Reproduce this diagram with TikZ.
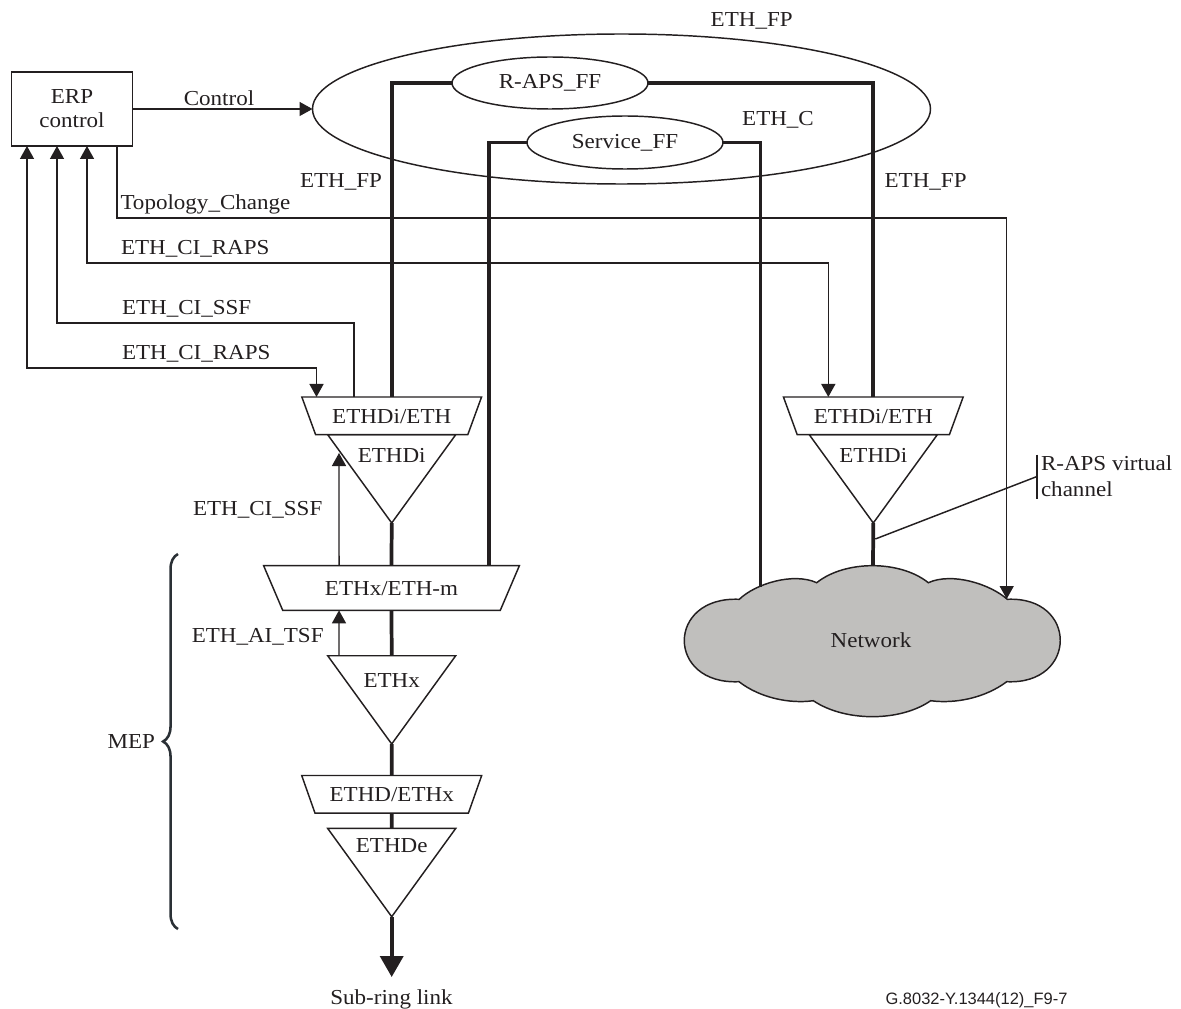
\documentclass[tikz,border=0pt]{standalone}
\usepackage{fontspec}
\setmainfont[FakeStretch=1.08]{Liberation Serif}
\newfontfamily\tagfont{Liberation Sans}
\usetikzlibrary{shapes.geometric,arrows.meta,calc,decorations.pathreplacing}
\definecolor{ink}{HTML}{231F20}
\definecolor{cloudgrey}{HTML}{C0BFBD}
\definecolor{bracecol}{HTML}{2A3035}

\begin{document}
\begin{tikzpicture}[
    x=0.75pt, y=-0.75pt,
    color=ink,
    every node/.style={font=\fontsize{16}{18}\selectfont, text=ink, inner sep=0pt, outer sep=0pt},
    line/.style={draw=ink, line width=1.1pt},
    arrow/.style={line, -{Triangle[length=9.75pt, width=10.5pt]}},
    twoway/.style={line, {Triangle[length=9.75pt, width=10.5pt]}-{Triangle[length=9.75pt, width=10.5pt]}},
    heavy/.style={draw=ink, line width=2.8pt},
    lbl/.style={anchor=west},
    box/.style={rectangle, line, minimum width=90.75pt, minimum height=55.5pt, align=center},
    ring/.style={ellipse, line, minimum width=147pt, minimum height=39pt},
    funnel/.style={trapezium, line, trapezium stretches=true, shape border rotate=180,
        trapezium angle=55, minimum width=135pt, minimum height=28.2pt, text height=11.5pt, text depth=0pt},
    tri/.style={isosceles triangle, line, isosceles triangle stretches=true, shape border rotate=-90,
        anchor=apex, minimum width=96pt, minimum height=66.2pt}
]
\useasboundingbox (0,0) rectangle (1181,1009);

% Network cloud
\coordinate (cloud_top) at (873,565);
\coordinate (cloud_svc) at (760.5,587);
\coordinate (cloud_tc) at (1006.7,599);
\draw[line, fill=cloudgrey] (739.3,599.3)
    .. controls (755,584) and (793,572) .. (816.7,582.7)
    .. controls (845,560) and (900,560) .. (928.3,582.7)
    .. controls (952,572) and (990,584) .. (1007.3,599.3)
    .. controls (1078,596) and (1078,685) .. (1006.7,681.7)
    .. controls (985,698) and (955,704) .. (930.7,700.7)
    .. controls (900,722) and (845,722) .. (813.3,700.7)
    .. controls (790,704) and (760,698) .. (739,681.7)
    .. controls (666,685) and (666,596) .. (739.3,599.3) -- cycle;
\node (network) at (871,640.5) {Network};

% Control block and flow domains
\node[box] (erp) at (72,109) {ERP\\control};
\node[ring, minimum width=463.5pt, minimum height=112.5pt] (fp) at (621.5,109) {};
\node[ring] (raps) at (550,83) {R-APS\_FF};
\node[ring, minimum height=39.75pt] (svc) at (625,142.5) {Service\_FF};

% Left stack
\node[funnel] (eth_a) at (391.7,415.8) {ETHDi/ETH};
\node[tri] (di_a) at (391.7,523) {};
\node (di_a_txt) at (391.7,455.8) {ETHDi};
\node[funnel, minimum width=192pt, minimum height=33.5pt, trapezium angle=52.7] (mux) at (391.5,588) {ETHx/ETH-m};
\node[tri] (ethx) at (391.7,744) {};
\node (ethx_txt) at (391.7,680.8) {ETHx};
\node[funnel] (ethd) at (391.7,794.3) {ETHD/ETHx};
\node[tri] (ethde) at (391.7,916.7) {};
\node (ethde_txt) at (391.7,846) {ETHDe};
\node (sublink) at (391.5,999) {Sub-ring link};
\coordinate (link_end) at (391.7,977);

% Right stack
\node[funnel] (eth_b) at (873.3,415.8) {ETHDi/ETH};
\node[tri] (di_b) at (873.3,523) {};
\node (di_b_txt) at (873.3,455.8) {ETHDi};

% Heavy paths
\draw[heavy] (raps.west) -| (eth_a.north);
\draw[heavy] (raps.east) -| (eth_b.north);
\draw[heavy] (svc.west) -| ($(mux.north)+(97.5,0)$);
\draw[heavy] (svc.east) -| (cloud_svc);
\draw[heavy] (di_a.apex) -- (mux.north);
\draw[heavy] (mux.south) -- (ethx.lower side);
\draw[heavy] (ethx.apex) -- (ethd.north);
\draw[heavy] (ethd.south) -- (ethde.lower side);
\draw[heavy] (di_b.apex) -- (cloud_top);
\draw[heavy, -{Triangle[length=15.75pt, width=17.25pt]}] (ethde.apex) -- (link_end);

% Signals
\draw[arrow] (erp.east) -- (fp.west);
\draw[arrow] ($(erp.south)+(45,0)$) |- ($(cloud_tc)+(0,-381)$) -- (cloud_tc);
\draw[twoway] ($(erp.south)+(15,0)$) -- ($(erp.south)+(15,117)$) -| ($(eth_b.north)+(-45,0)$);
\draw[arrow] ($(eth_a.north)+(-37.7,0)$) |- ($(erp.south)+(-15,177)$) -- ($(erp.south)+(-15,0)$);
\draw[twoway] ($(erp.south)+(-45,0)$) -- ($(erp.south)+(-45,222)$) -| ($(eth_a.north)+(-75.2,0)$);
\coordinate (ssf_tip) at (339,453);
\draw[arrow] ($(mux.north)+(-52.5,0)$) -- (ssf_tip);
\draw[arrow] ($(ethx.lower side)+(-52.7,0)$) -- ($(mux.south)+(-52.5,0)$);

% Signal labels
\node (ctl_lbl) at (219,98.7) {Control};
\node[lbl] (tc_lbl) at (120.5,204.3) {Topology\_Change};
\node[lbl] (raps_lbl_a) at (121,249) {ETH\_CI\_RAPS};
\node[lbl] (ssf_lbl_a) at (122,309) {ETH\_CI\_SSF};
\node[lbl] (raps_lbl_b) at (122,354) {ETH\_CI\_RAPS};
\node (ssf_lbl_b) at (257.7,510) {ETH\_CI\_SSF};
\node (tsf_lbl) at (257.7,637) {ETH\_AI\_TSF};
\node (fp_top) at (751.7,20.8) {ETH\_FP};
\node (fp_left) at (341,182) {ETH\_FP};
\node (fp_right) at (925.6,182) {ETH\_FP};
\node (eth_c) at (778,120) {ETH\_C};

% Virtual channel callout
\node[anchor=west, align=left, minimum height=33pt, inner xsep=3pt, font=\fontsize{16}{19.5}\selectfont] (rv) at (1037,476.5) {R-APS virtual\\channel};
\draw[line] (rv.north west) -- (rv.south west);
\draw[line] (rv.west) -- ($(di_b.apex)+(2,16)$);

% MEP brace
\coordinate (brace_a) at (178,929);
\coordinate (brace_b) at (178,554);
\draw[draw=bracecol, line width=1.9pt, decorate, decoration={brace, amplitude=11.2pt}] (brace_a) -- (brace_b);
\node[anchor=east] (mep) at (155,741.5) {MEP};

% Figure tag
\node[font=\tagfont\fontsize{12.35}{14}\selectfont] (figtag) at (976.5,1000) {G.8032-Y.1344(12)\_F9-7};
\end{tikzpicture}
\end{document}
